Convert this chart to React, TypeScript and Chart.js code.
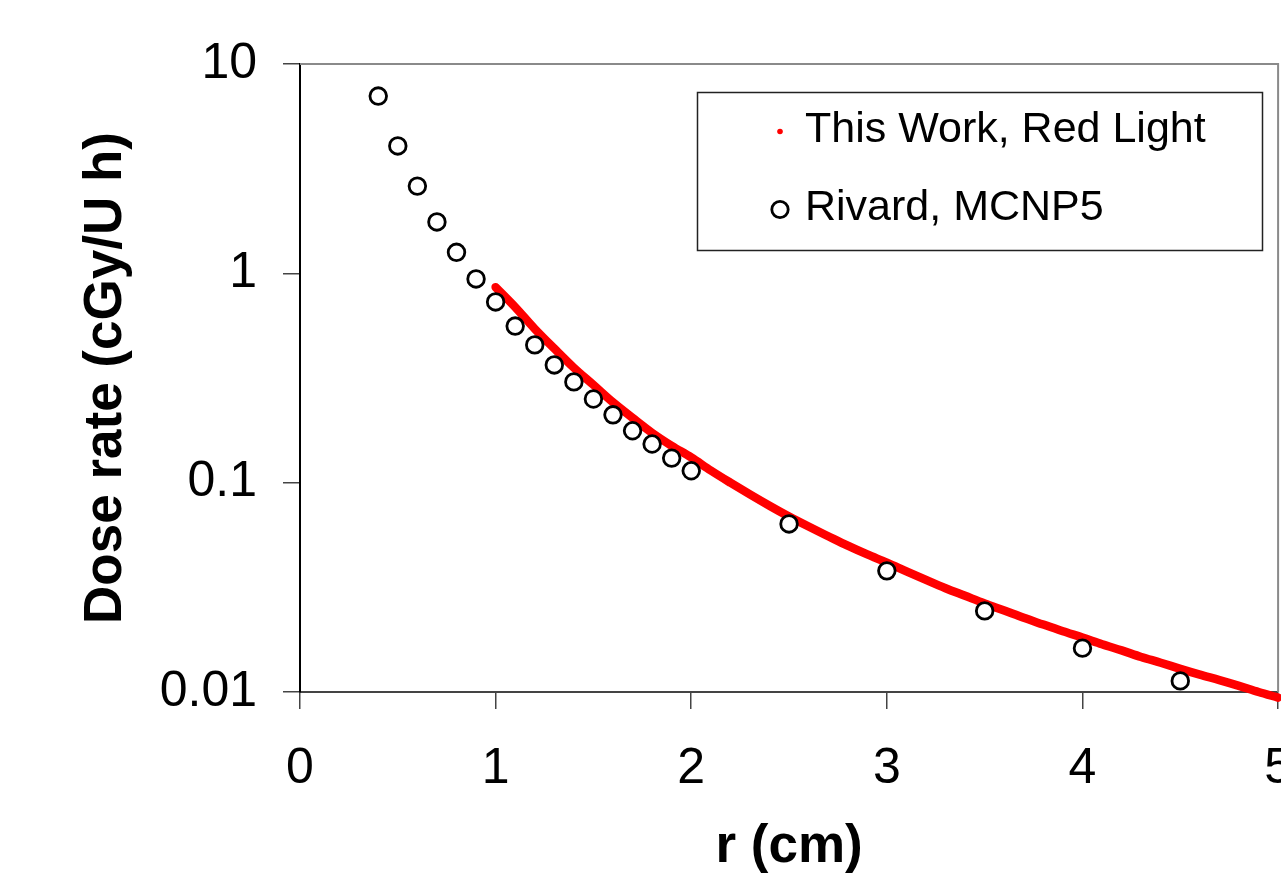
import React, { useEffect, useRef } from "react";
import { Chart, registerables } from "chart.js";

Chart.register(...registerables);

// ---- Data ----
const mcnpR = [0.4, 0.5, 0.6, 0.7, 0.8, 0.9, 1.0, 1.1, 1.2, 1.3, 1.4, 1.5, 1.6, 1.7, 1.8, 1.9, 2.0, 2.5, 3.0, 3.5, 4.0, 4.5];
const mcnpDose = [7.03, 4.06, 2.61, 1.76, 1.26, 0.94, 0.73, 0.56, 0.455, 0.365, 0.303, 0.251, 0.211, 0.177, 0.153, 0.131, 0.114, 0.0635, 0.0379, 0.0244, 0.0162, 0.0113];

const redR = [1.0, 1.1, 1.2, 1.3, 1.4, 1.5, 1.6, 1.7, 1.8, 1.9, 2.0, 2.1, 2.2, 2.3, 2.4, 2.5, 2.6, 2.7, 2.8, 2.9, 3.0, 3.1, 3.2, 3.3, 3.4, 3.5, 3.6, 3.7, 3.8, 3.9, 4.0, 4.1, 4.2, 4.3, 4.4, 4.5, 4.6, 4.7, 4.8, 4.9, 5.0];
const redDose = [0.859, 0.69, 0.543, 0.437, 0.354, 0.293, 0.242, 0.204, 0.173, 0.15, 0.132, 0.1143, 0.1, 0.0879, 0.0776, 0.0689, 0.0617, 0.0555, 0.05, 0.0454, 0.0415, 0.0377, 0.0343, 0.0313, 0.0288, 0.0265, 0.0245, 0.0226, 0.021, 0.0195, 0.0182, 0.0169, 0.0158, 0.0147, 0.0138, 0.0129, 0.0121, 0.0114, 0.0107, 0.01, 0.0094];

const yTickValues = [0.01, 0.1, 1, 10];
const yTickLabels = ["0.01", "0.1", "1", "10"];
const xTickLabels = ["0", "1", "2", "3", "4", "5"];

const seriesLabels = ["This Work, Red Light", "Rivard, MCNP5"];
const xTitle = "r (cm)";
const yTitle = "Dose rate (cGy/U h)";

const FONT = "'Liberation Sans', Arial, Helvetica, sans-serif";

function makeRedIcon() {
  const c = document.createElement("canvas");
  c.width = 16;
  c.height = 20;
  const g = c.getContext("2d")!;
  g.fillStyle = "#ff0000";
  g.beginPath();
  g.arc(5, 11.5, 2.8, 0, Math.PI * 2);
  g.fill();
  return c;
}

function makeCircleIcon() {
  const c = document.createElement("canvas");
  c.width = 30;
  c.height = 30;
  const g = c.getContext("2d")!;
  g.strokeStyle = "#000";
  g.lineWidth = 2.8;
  g.beginPath();
  g.arc(12, 16.5, 8.2, 0, Math.PI * 2);
  g.stroke();
  return c;
}

export default function App() {
  const canvasRef = useRef<HTMLCanvasElement | null>(null);

  useEffect(() => {
    const canvas = canvasRef.current;
    if (!canvas) return;
    const icons = [makeRedIcon(), makeCircleIcon()];

    const framePlugin = {
      id: "frameAndLegend",
      beforeDraw(chart: any) {
        const leg = chart.legend;
        if (leg) {
          leg.left = 747.5;
          leg.top = 73.5;
          leg.right = 1279;
          leg.bottom = 692;
          leg.width = leg.right - leg.left;
          leg.height = leg.bottom - leg.top;
          if (leg.adjustHitBoxes) leg.adjustHitBoxes();
        }
      },
      afterDraw(chart: any) {
        const { ctx, chartArea } = chart;
        ctx.save();
        // top and right frame of the plot area
        ctx.strokeStyle = "#8a8a8a";
        ctx.lineWidth = 2;
        ctx.beginPath();
        ctx.moveTo(chartArea.left, chartArea.top);
        ctx.lineTo(chartArea.right, chartArea.top);
        ctx.lineTo(chartArea.right, chartArea.bottom);
        ctx.stroke();
        // legend box
        ctx.strokeStyle = "#222";
        ctx.lineWidth = 1.5;
        ctx.strokeRect(697.5, 92.5, 565, 158);
        ctx.restore();
      },
    };

    const chart = new Chart(canvas, {
      type: "scatter",
      data: {
        datasets: [
          {
            label: seriesLabels[0],
            data: redR.map((x, i) => ({ x, y: redDose[i] })),
            showLine: true,
            borderColor: "#ff0000",
            backgroundColor: "#ff0000",
            borderWidth: 8.5,
            pointRadius: 0,
            pointHoverRadius: 0,
            borderCapStyle: "round",
            borderJoinStyle: "round",
            cubicInterpolationMode: "monotone",
            clip: false,
            order: 1,
          } as any,
          {
            label: seriesLabels[1],
            data: mcnpR.map((x, i) => ({ x, y: mcnpDose[i] })),
            showLine: false,
            pointStyle: "circle",
            pointRadius: 8.3,
            pointBorderWidth: 2.8,
            pointBorderColor: "#000",
            pointBackgroundColor: "#fff",
            borderColor: "#000",
            backgroundColor: "#fff",
            order: 0,
          } as any,
        ],
      },
      options: {
        responsive: false,
        maintainAspectRatio: false,
        animation: false,
        devicePixelRatio: 1,
        layout: { padding: { left: 0, top: 64, right: 21, bottom: 0 } },
        plugins: {
          tooltip: { enabled: false },
          legend: {
            display: true,
            position: "chartArea" as any,
            align: "start",
            labels: {
              usePointStyle: true,
              boxWidth: 1,
              padding: 35,
              color: "#000",
              font: { family: FONT, size: 43 },
              generateLabels: (ch: any) =>
                ch.data.datasets.map((ds: any, i: number) => ({
                  text: ds.label,
                  pointStyle: icons[i],
                  fillStyle: "#000",
                  strokeStyle: "#000",
                  lineWidth: 0,
                  hidden: false,
                  datasetIndex: i,
                  fontColor: "#000",
                })),
            },
          },
        },
        scales: {
          x: {
            type: "linear",
            min: 0,
            max: 5,
            ticks: {
              stepSize: 1,
              padding: 30,
              color: "#000",
              font: { family: FONT, size: 50 },
              maxRotation: 0,
              autoSkip: false,
              callback: (v: any, i: number) => xTickLabels[i] ?? String(v),
            },
            grid: {
              display: true,
              drawOnChartArea: false,
              drawTicks: true,
              tickLength: 17,
              color: "#444",
              lineWidth: 1.5,
            },
            border: { display: true, color: "#444", width: 2 },
            title: {
              display: true,
              text: xTitle,
              color: "#000",
              font: { family: FONT, size: 53, weight: "bold" },
              padding: { top: 0, bottom: -3 },
            },
            afterFit: (scale: any) => {
              scale.height = 184;
            },
          },
          y: {
            type: "logarithmic",
            min: 0.01,
            max: 10,
            afterBuildTicks: (scale: any) => {
              scale.ticks = yTickValues.map((v) => ({ value: v, major: false }));
            },
            ticks: {
              padding: 26,
              color: "#000",
              font: { family: FONT, size: 50 },
              autoSkip: false,
              callback: (v: any, i: number) => yTickLabels[i] ?? String(v),
            },
            grid: {
              display: true,
              drawOnChartArea: false,
              drawTicks: true,
              tickLength: 17,
              color: "#444",
              lineWidth: 1.5,
            },
            border: { display: true, color: "#000", width: 2 },
            title: {
              display: true,
              text: yTitle,
              color: "#000",
              font: { family: FONT, size: 53, weight: "bold" },
              padding: { top: 75, bottom: 0 },
            },
            afterFit: (scale: any) => {
              scale.width = 300;
            },
          },
        },
      },
      plugins: [framePlugin],
    });

    return () => {
      chart.destroy();
    };
  }, []);

  return (
    <div
      style={{
        position: "fixed",
        left: 0,
        top: 0,
        width: 1281,
        height: 876,
        overflow: "hidden",
        background: "#fff",
      }}
    >
      <canvas ref={canvasRef} width={1322} height={876} style={{ display: "block" }} />
    </div>
  );
}
